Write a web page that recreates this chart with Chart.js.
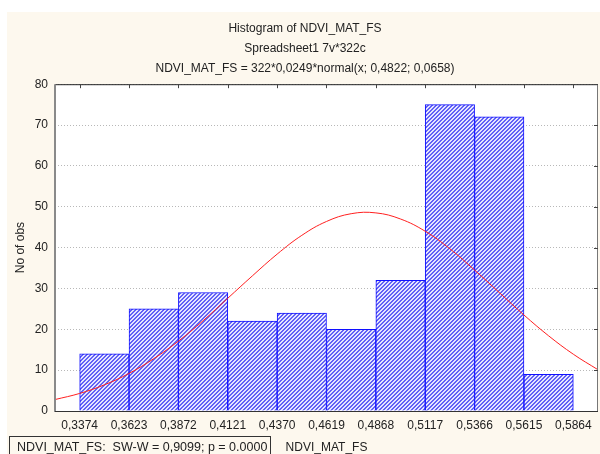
<!DOCTYPE html>
<html lang="en">
<head>
<meta charset="UTF-8">
<title>Histogram of NDVI_MAT_FS</title>
<script src="https://cdn.jsdelivr.net/npm/chart.js"></script>
<style>
  html, body { margin: 0; padding: 0; background: #fff; }
  canvas { display: block; }
</style>
</head>
<body>
<canvas id="histChart" width="600" height="454"></canvas>
<script>
// bin edges of NDVI_MAT_FS, the x tick labels sit on them
const binEdges = [0.3374, 0.3623, 0.3872, 0.4121, 0.4370, 0.4619, 0.4868, 0.5117, 0.5366, 0.5615, 0.5864];
const tickLabels = ['0,3374', '0,3623', '0,3872', '0,4121', '0,4370', '0,4619', '0,4868', '0,5117', '0,5366', '0,5615', '0,5864'];
// number of observations per bin (322 in total)
const counts = [14, 25, 29, 22, 24, 20, 32, 75, 72, 9];

// fitted normal curve, read every half bin across the axis
const curveX = [0.32495, 0.3374, 0.34985, 0.3623, 0.37475, 0.3872, 0.39965, 0.4121, 0.42455, 0.4370, 0.44945, 0.4619,
                0.47435, 0.4868, 0.49925, 0.5117, 0.52415, 0.5366, 0.54905, 0.5615, 0.57395, 0.5864, 0.59885];
const curveY = [2.8, 4.3, 6.4, 9.2, 12.8, 17.1, 22.1, 27.6, 33.1, 38.4, 43.0, 46.4,
                48.3, 48.5, 47.0, 44.0, 39.7, 34.5, 29.0, 23.5, 18.4, 13.9, 10.1];

const titleLines = ['Histogram of NDVI_MAT_FS', 'Spreadsheet1 7v*322c', 'NDVI_MAT_FS = 322*0,0249*normal(x; 0,4822; 0,0658)'];
const swText = 'NDVI_MAT_FS:  SW-W = 0,9099; p = 0.0000';

const halfBin = (binEdges[1] - binEdges[0]) / 2;
const binCenters = counts.map((c, i) => (binEdges[i] + binEdges[i + 1]) / 2);

Chart.defaults.font.family = '"Liberation Sans", Arial, sans-serif';
Chart.defaults.font.size = 12;
Chart.defaults.color = '#333';

// diagonal blue hatch used for the bars
function makeHatch() {
    const c = document.createElement('canvas');
    c.width = 4; c.height = 4;
    const g = c.getContext('2d');
    g.fillStyle = '#e6e6ff';
    g.fillRect(0, 0, 4, 4);
    g.fillStyle = '#6262f6';
    for (let y = 0; y < 4; y++) {
        for (let x = 0; x < 4; x++) {
            if ((x + y) % 4 < 2) g.fillRect(x, y, 1, 1);
        }
    }
    return g.createPattern(c, 'repeat');
}

// cream page, white plot area
const backdrop = {
    id: 'backdrop',
    beforeDraw(chart) {
        const { ctx, chartArea: a } = chart;
        ctx.save();
        ctx.fillStyle = '#ffffff';
        ctx.fillRect(0, 0, chart.width, chart.height);
        ctx.fillStyle = '#fdf8ee';
        ctx.fillRect(7, 12, chart.width - 7, chart.height - 12);
        ctx.fillStyle = '#ffffff';
        ctx.fillRect(a.left, a.top, a.right - a.left, a.bottom - a.top);
        ctx.restore();
    }
};

// plot frame with inward ticks on the top and right sides, plus the SW-W box
const frame = {
    id: 'frame',
    afterDraw(chart) {
        const { ctx, chartArea: a, scales } = chart;
        ctx.save();
        // top and right
        ctx.lineWidth = 1;
        ctx.strokeStyle = '#222';
        ctx.beginPath();
        ctx.moveTo(a.left, a.top + 0.5); ctx.lineTo(a.right, a.top + 0.5);
        ctx.stroke();
        ctx.strokeStyle = '#777';
        ctx.beginPath();
        ctx.moveTo(a.right - 0.5, a.top); ctx.lineTo(a.right - 0.5, a.bottom);
        ctx.stroke();
        ctx.strokeStyle = '#444';
        binEdges.forEach(v => {
            const x = Math.round(scales.x.getPixelForValue(v)) + 0.5;
            ctx.beginPath(); ctx.moveTo(x, a.top); ctx.lineTo(x, a.top + 4); ctx.stroke();
        });
        scales.y.ticks.forEach(t => {
            const y = Math.round(scales.y.getPixelForValue(t.value)) + 0.5;
            ctx.beginPath(); ctx.moveTo(a.right, y); ctx.lineTo(a.right - 4, y); ctx.stroke();
        });
        // left and bottom
        ctx.strokeStyle = '#8a8a8a';
        ctx.lineWidth = 2;
        ctx.beginPath();
        ctx.moveTo(a.left, a.top); ctx.lineTo(a.left, a.bottom + 1);
        ctx.stroke();
        ctx.strokeStyle = '#333';
        ctx.lineWidth = 1;
        ctx.beginPath();
        ctx.moveTo(a.left, a.bottom + 0.5); ctx.lineTo(a.right, a.bottom + 0.5);
        ctx.stroke();
        // normality test box
        ctx.strokeStyle = '#333';
        ctx.strokeRect(9.5, 436.5, 261, 24);
        ctx.fillStyle = '#222';
        ctx.font = '12.5px "Liberation Sans", Arial, sans-serif';
        ctx.textBaseline = 'alphabetic';
        ctx.fillText(swText, 17, 451);
        ctx.restore();
    }
};

new Chart(document.getElementById('histChart'), {
    data: {
        datasets: [
            {
                type: 'line',
                data: curveX.map((x, i) => ({ x: x, y: curveY[i] })),
                borderColor: '#ff2020',
                borderWidth: 1,
                pointRadius: 0,
                tension: 0.4,
                order: 0
            },
            {
                type: 'bar',
                data: binCenters.map((x, i) => ({ x: x, y: counts[i] })),
                backgroundColor: makeHatch(),
                borderColor: '#1010ff',
                borderWidth: 1,
                barPercentage: 1,
                categoryPercentage: 1,
                order: 1
            }
        ]
    },
    options: {
        responsive: false,
        animation: false,
        layout: { padding: { left: 12, right: 2, top: 0, bottom: 0 } },
        plugins: {
            legend: { display: false },
            tooltip: { enabled: false },
            title: {
                display: true,
                text: titleLines,
                color: '#222',
                font: { size: 12, weight: 'normal', lineHeight: 1.7 },
                padding: { top: 18, bottom: 5 }
            }
        },
        scales: {
            x: {
                type: 'linear',
                offset: false,
                min: binEdges[0] - halfBin,
                max: binEdges[binEdges.length - 1] + halfBin,
                afterBuildTicks: scale => { scale.ticks = binEdges.map(v => ({ value: v })); },
                afterFit: scale => { scale.height = 43; },
                ticks: {
                    autoSkip: false,
                    maxRotation: 0,
                    padding: 7,
                    color: '#222',
                    callback: (v, i) => tickLabels[i]
                },
                grid: { display: false, drawTicks: false, offset: false },
                border: { display: false },
                title: {
                    display: true,
                    text: 'NDVI_MAT_FS',
                    color: '#222',
                    padding: { top: 0, bottom: -1 }
                }
            },
            y: {
                min: 0,
                max: 80,
                afterFit: scale => { scale.width = 43; },
                ticks: { stepSize: 10, padding: 7, color: '#222' },
                grid: {
                    drawTicks: false,
                    color: '#b8b8b8'
                },
                border: { display: false, dash: [1, 2] },
                title: {
                    display: true,
                    text: 'No of obs',
                    color: '#222',
                    padding: { top: 1, bottom: 0 }
                }
            }
        }
    },
    plugins: [backdrop, frame]
});
</script>
</body>
</html>
